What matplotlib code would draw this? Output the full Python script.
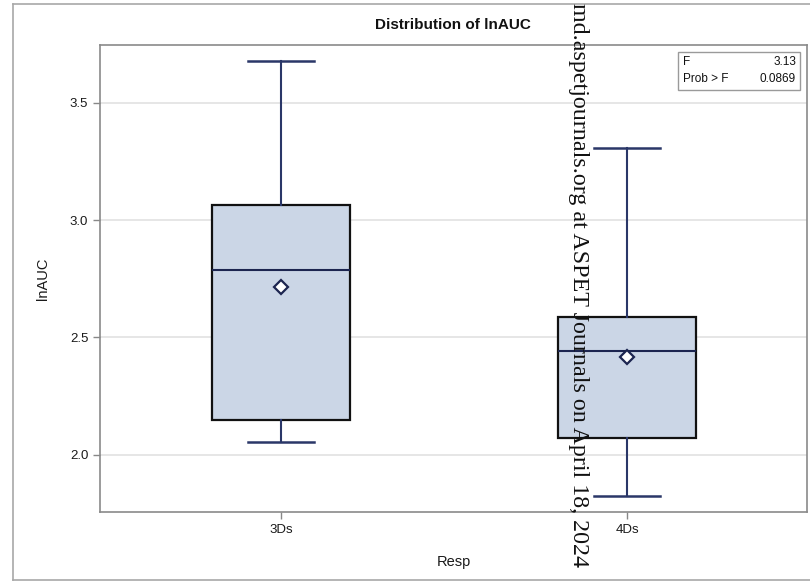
"""Box plot of lnAUC by responder group."""

import matplotlib.pyplot as plt
from matplotlib.lines import Line2D
from matplotlib.patches import Rectangle

plt.rcParams["font.family"] = ["Liberation Sans", "DejaVu Sans"]

# five-number summaries and means read per group
groups = ["3Ds", "4Ds"]
whisker_low = [2.055, 1.823]
q1 = [2.150, 2.071]
median = [2.789, 2.442]
q3 = [3.065, 2.589]
whisker_high = [3.677, 3.307]
means = [2.715, 2.418]

f_value = "3.13"
prob_f = "0.0869"
watermark = "md.aspetjournals.org at ASPET Journals on April 18, 2024"

NAVY = "#2A3768"
FILL = "#CBD6E6"

W, H = 810, 584
fig = plt.figure(figsize=(W / 100, H / 100), dpi=100)


def fx(px):
    return px / W


def fy(py):
    return 1 - py / H


ax = fig.add_axes([fx(100), fy(512), fx(807) - fx(100), fy(45) - fy(512)])

stats = []
for i, name in enumerate(groups):
    stats.append(
        {
            "label": name,
            "whislo": whisker_low[i],
            "q1": q1[i],
            "med": median[i],
            "q3": q3[i],
            "whishi": whisker_high[i],
            "mean": means[i],
            "fliers": [],
        }
    )

ax.bxp(
    stats,
    positions=[1, 2],
    widths=0.4,
    patch_artist=True,
    showmeans=True,
    boxprops=dict(facecolor=FILL, edgecolor="#111111", linewidth=1.6),
    medianprops=dict(color="#1C2550", linewidth=1.5),
    whiskerprops=dict(color=NAVY, linewidth=1.5),
    capprops=dict(color=NAVY, linewidth=1.8),
    capwidths=0.19,
    meanprops=dict(marker="D", markerfacecolor="white", markeredgecolor="#1C2550",
                   markersize=7, markeredgewidth=1.6),
    zorder=3,
)

ax.set_xlim(0.477, 2.52)
ax.set_ylim(1.757, 3.745)
ax.set_yticks([2.0, 2.5, 3.0, 3.5])
ax.set_yticklabels(["2.0", "2.5", "3.0", "3.5"])
ax.set_xticks([1, 2])
ax.set_xticklabels(groups)
ax.yaxis.grid(True, color="#E2E2E2", linewidth=1.2, zorder=0)
ax.set_axisbelow(True)
ax.tick_params(colors="#888888", labelcolor="#1A1A1A", labelsize=9.5, length=5, width=1)
for spine in ax.spines.values():
    spine.set_color("#8A8A8A")
    spine.set_linewidth(1.2)

ax.set_xlabel("Resp", fontsize=10.5, color="#1A1A1A", labelpad=14)
ax.set_ylabel("lnAUC", fontsize=10.5, color="#1A1A1A", labelpad=14)
fig.text(fx(453), fy(25), "Distribution of lnAUC", ha="center", va="center",
         fontsize=11, fontweight="bold", color="#111111")

# statistics inset
fig.add_artist(Rectangle((fx(678), fy(90)), fx(800) - fx(678), fy(52) - fy(90),
                         transform=fig.transFigure, facecolor="white",
                         edgecolor="#9A9A9A", linewidth=1))
fig.text(fx(683), fy(62), "F", ha="left", va="center", fontsize=8.5, color="#111111")
fig.text(fx(796), fy(62), f_value, ha="right", va="center", fontsize=8.5, color="#111111")
fig.text(fx(683), fy(79), "Prob > F", ha="left", va="center", fontsize=8.5, color="#111111")
fig.text(fx(796), fy(79), prob_f, ha="right", va="center", fontsize=8.5, color="#111111")

# outer graph frame
for xs, ys in [((13, 13), (4, 580)), ((13, W), (4, 4)), ((13, W), (580, 580))]:
    fig.add_artist(Line2D([fx(v) for v in xs], [fy(v) for v in ys],
                          transform=fig.transFigure, color="#A8A8A8", linewidth=1.2))

fig.text(fx(579), fy(567), watermark, rotation=270, ha="center", va="bottom",
         fontsize=17.3, family=["Liberation Serif", "DejaVu Serif"], color="#111111")

fig.savefig("out.png", dpi=100)
